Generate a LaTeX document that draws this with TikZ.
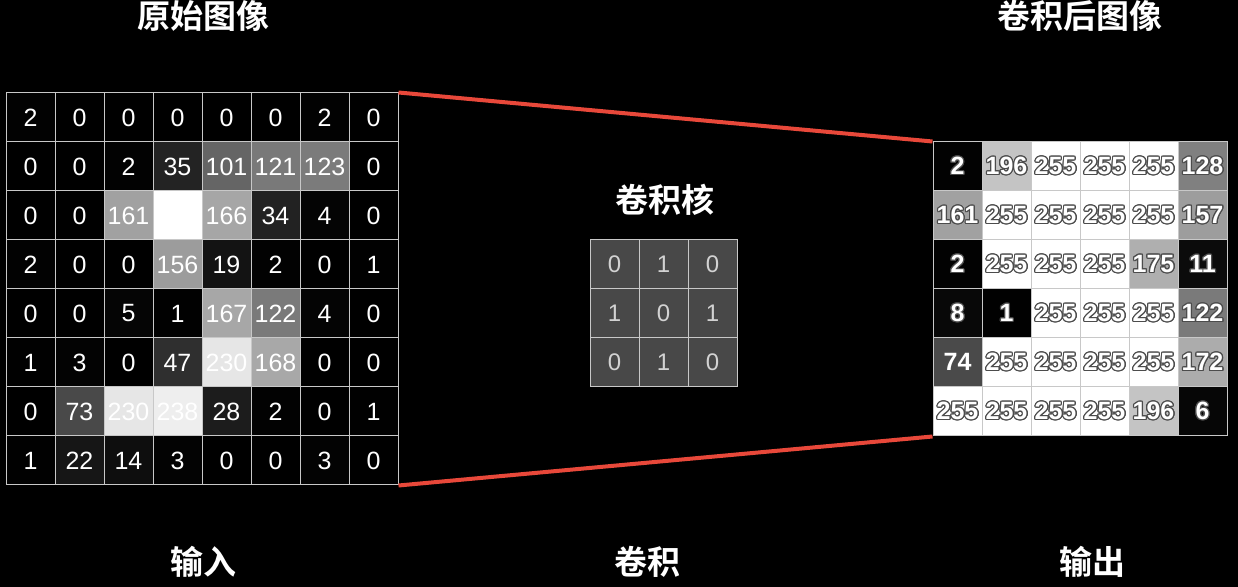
\documentclass[tikz,border=0pt]{standalone}
\usepackage{fontspec}
\usepackage[copies]{contour}
\setmainfont{Liberation Sans}
\newfontfamily\cjk{Noto Sans CJK SC}[BoldFont={Noto Sans CJK SC Bold}]
\definecolor{linered}{RGB}{232,72,58}
\definecolor{gridgray}{RGB}{200,200,200}
\definecolor{kernelgray}{RGB}{72,72,72}
\definecolor{kerneltext}{RGB}{210,210,210}
\contourlength{0.6pt}

\begin{document}
\begin{tikzpicture}[x=0.5pt, y=-0.5pt,
    cell/.style={draw=gridgray, line width=0.5pt, minimum size=24.5pt, inner sep=0pt},
    incell/.style={cell, text=white, font=\fontsize{12.5}{14}\selectfont},
    outcell/.style={cell, text=white, font=\fontsize{12.5}{14}\selectfont\bfseries},
    kercell/.style={cell, fill=kernelgray, text=kerneltext, font=\fontsize{12}{14}\selectfont},
    title/.style={text=white, font=\cjk\bfseries\fontsize{16.5}{18}\selectfont},
    redline/.style={draw=linered, line width=2pt}]
    \fill[black] (0,0) rectangle (1238,587);
    \useasboundingbox (0,0) rectangle (1238,587);

    % input image
    \foreach \row [count=\r] in {{2,0,0,0,0,0,2,0},{0,0,2,35,101,121,123,0},{0,0,161,255,166,34,4,0},{2,0,0,156,19,2,0,1},{0,0,5,1,167,122,4,0},{1,3,0,47,230,168,0,0},{0,73,230,238,28,2,0,1},{1,22,14,3,0,0,3,0}} {
        \foreach \v [count=\c] in \row {
            \pgfmathsetmacro\g{\v/255*100}
            \node[incell, fill=white!\g!black] (in-\r-\c) at ({6+(\c-0.5)*49},{93+(\r-0.5)*49}) {\v};
        }
    }

    % kernel
    \foreach \row [count=\r] in {{0,1,0},{1,0,1},{0,1,0}} {
        \foreach \v [count=\c] in \row {
            \node[kercell] (ker-\r-\c) at ({590+(\c-0.5)*49},{240+(\r-0.5)*49}) {\v};
        }
    }

    % output image
    \foreach \row [count=\r] in {{2,196,255,255,255,128},{161,255,255,255,255,157},{2,255,255,255,175,11},{8,1,255,255,255,122},{74,255,255,255,255,172},{255,255,255,255,196,6}} {
        \foreach \v [count=\c] in \row {
            \pgfmathsetmacro\g{\v/255*100}
            \node[outcell, fill=white!\g!black] (out-\r-\c) at ({933+(\c-0.5)*49},{142+(\r-0.5)*49}) {\contour{black!70}{\v}};
        }
    }

    \draw[redline] (in-1-8.north east) -- (out-1-1.north west);
    \draw[redline] (in-8-8.south east) -- (out-6-1.south west);

    \node[title] (origtitle) at (203,16) {原始图像};
    \node[title] (convtitle) at (1080,16) {卷积后图像};
    \node[title] (kertitle) at (665,200) {卷积核};
    \node[title] (inlabel) at (203,562) {输入};
    \node[title] (convlabel) at (647,562) {卷积};
    \node[title] (outlabel) at (1092,562) {输出};
\end{tikzpicture}
\end{document}
